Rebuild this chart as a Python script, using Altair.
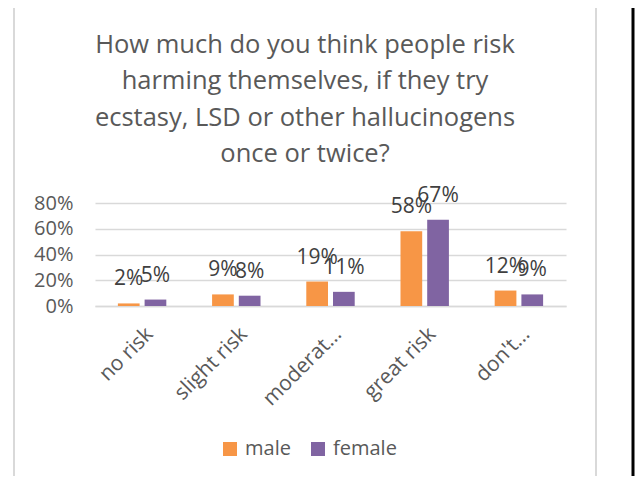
import altair as alt
import pandas as pd

categories = ["no risk", "slight risk", "moderat…", "great risk", "don't…"]
series = ["male", "female"]
male = [0.02, 0.09, 0.19, 0.58, 0.12]
female = [0.05, 0.08, 0.11, 0.67, 0.09]
colors = ["#F79646", "#8064A2"]
y_ticks = [0, 0.2, 0.4, 0.6, 0.8]
title_lines = [
    "How much do you think people risk",
    "harming themselves, if they try",
    "ecstasy, LSD or other hallucinogens",
    "once or twice?",
]

rows = []
for c, m, f in zip(categories, male, female):
    rows.append({"category": c, "series": "male", "value": m})
    rows.append({"category": c, "series": "female", "value": f})
df = pd.DataFrame(rows)

FONT = "Open Sans"
TXT = "#595959"

x_enc = alt.X(
    "category:N",
    sort=categories,
    scale=alt.Scale(paddingInner=0, paddingOuter=0),
    axis=alt.Axis(
        title=None,
        labelAngle=-45,
        labelAlign="right",
        labelBaseline="top",
        labelFontSize=21,
        labelColor=TXT,
        labelFont=FONT,
        labelPadding=17,
        ticks=False,
        domainColor="#D9D9D9",
        domainWidth=1.5,
        labelLimit=200,
        labelOverlap=False,
    ),
)
xo_enc = alt.XOffset(
    "series:N", sort=series, scale=alt.Scale(paddingInner=0.187, paddingOuter=0.857)
)
y_enc = alt.Y(
    "value:Q",
    scale=alt.Scale(domain=[0, 0.8]),
    axis=alt.Axis(
        title=None,
        values=y_ticks,
        tickCount=5,
        format=".0%",
        domain=False,
        ticks=False,
        grid=True,
        gridColor="#D9D9D9",
        gridWidth=1.5,
        labelFontSize=20,
        labelColor=TXT,
        labelFont=FONT,
        labelPadding=22,
        labelOverlap=False,
    ),
)

bars = alt.Chart(df).mark_bar().encode(
    x=x_enc,
    xOffset=xo_enc,
    y=y_enc,
    color=alt.Color(
        "series:N",
        sort=series,
        scale=alt.Scale(domain=series, range=colors),
        legend=alt.Legend(
            title=None,
            orient="none",
            direction="horizontal",
            legendX=125,
            legendY=236,
            symbolType="square",
            symbolSize=196,
            symbolStrokeWidth=0,
            labelFontSize=20,
            labelFont=FONT,
            labelColor=TXT,
            labelOffset=5,
            columnPadding=17,
        ),
    ),
)

labels = alt.Chart(df).mark_text(
    dy=-18, baseline="alphabetic", fontSize=21, font=FONT, color="#404040"
).encode(
    x=alt.X("category:N", sort=categories),
    xOffset=alt.XOffset("series:N", sort=series),
    y=alt.Y("value:Q"),
    text=alt.Text("value:Q", format=".0%"),
)

frame_df = pd.DataFrame({"k": [0]})
title_text = alt.Chart(frame_df).mark_text(
    text=title_lines,
    font=FONT,
    fontSize=25.5,
    color=TXT,
    align="center",
    baseline="alphabetic",
    lineHeight=36.3,
).encode(x=alt.value(210), y=alt.value(-150))

left_line = alt.Chart(frame_df).mark_rule(color="#D9D9D9", strokeWidth=2).encode(
    x=alt.value(-81), y=alt.value(-200), y2=alt.value(290)
)
right_line = alt.Chart(frame_df).mark_rule(color="#D9D9D9", strokeWidth=2).encode(
    x=alt.value(501), y=alt.value(-200), y2=alt.value(290)
)
black_line = alt.Chart(frame_df).mark_rule(color="#000000", strokeWidth=3).encode(
    x=alt.value(538), y=alt.value(-200), y2=alt.value(290)
)

chart = alt.layer(
    bars, labels, title_text, left_line, right_line, black_line
).properties(
    width=471,
    height=103,
    autosize=alt.AutoSizeParams(type="none"),
    padding={"left": 87, "top": 195, "right": 69, "bottom": 170},
    background="white",
).configure_view(stroke=None)

chart.save("out.html", embed_options={"renderer": "svg", "actions": False})
